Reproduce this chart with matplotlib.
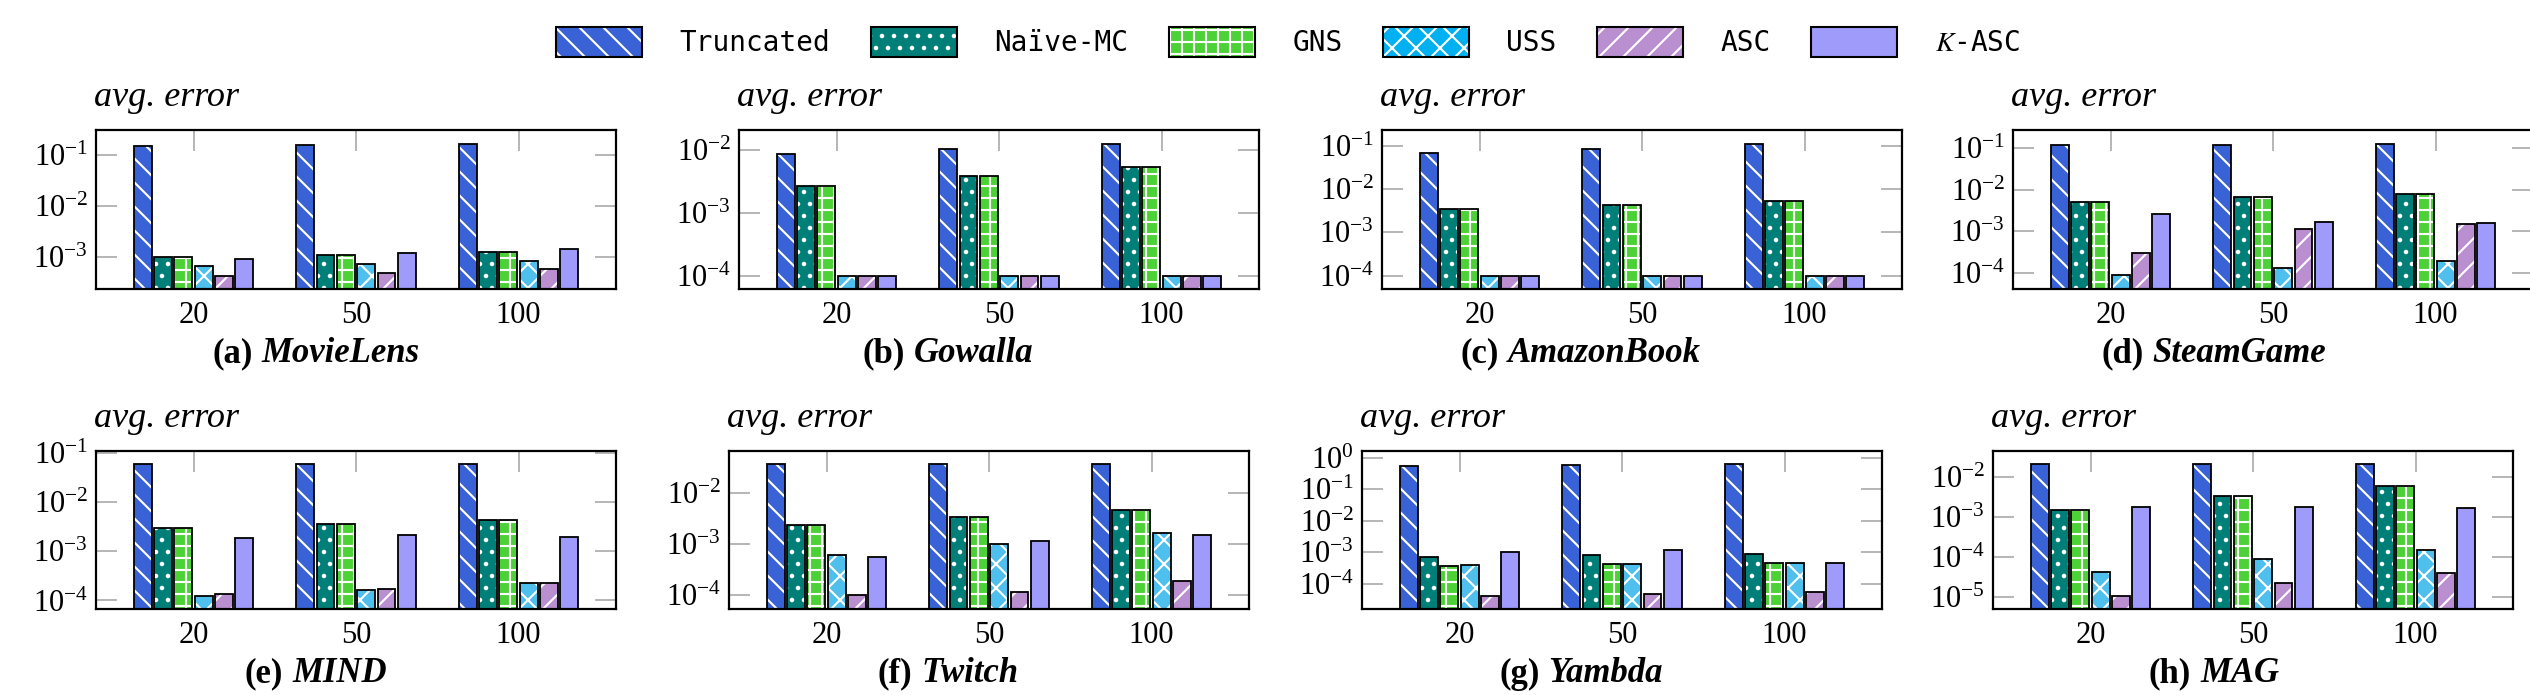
import matplotlib
matplotlib.use("Agg")
import matplotlib.pyplot as plt
import matplotlib.ticker as mticker
from matplotlib.patches import Patch
import numpy as np

# figure is built at 72 dpi so that one point == one pixel (denser hatching)
DPI = 72
S = 100 / 72  # sizes below are written as "points at 100 dpi"

plt.rcParams['font.family'] = ['Liberation Serif', 'DejaVu Serif']
plt.rcParams['mathtext.fontset'] = 'stix'
plt.rcParams['hatch.linewidth'] = 2.1

# ---------------- data ----------------
methods = ["Truncated", "Naïve-MC", "GNS", "USS", "ASC", r"$K$-ASC"]
budgets = ["20", "50", "100"]
datasets = ["MovieLens", "Gowalla", "AmazonBook", "SteamGame",
            "MIND", "Twitch", "Yambda", "MAG"]
letters = ["a", "b", "c", "d", "e", "f", "g", "h"]

# rows: budgets 20 / 50 / 100 ; columns: methods
movielens = [[0.153, 1.00e-3, 1.00e-3, 6.7e-4, 4.3e-4, 9.3e-4],
             [0.162, 1.09e-3, 1.09e-3, 7.4e-4, 4.9e-4, 1.22e-3],
             [0.170, 1.24e-3, 1.24e-3, 8.5e-4, 5.7e-4, 1.46e-3]]
gowalla = [[8.6e-3, 2.70e-3, 2.70e-3, 1.0e-4, 1.0e-4, 1.0e-4],
           [1.05e-2, 3.85e-3, 3.85e-3, 1.0e-4, 1.0e-4, 1.0e-4],
           [1.26e-2, 5.37e-3, 5.37e-3, 1.0e-4, 1.0e-4, 1.0e-4]]
amazonbook = [[0.0676, 3.5e-3, 3.5e-3, 1.0e-4, 1.0e-4, 1.0e-4],
              [0.0868, 4.4e-3, 4.4e-3, 1.0e-4, 1.0e-4, 1.0e-4],
              [0.113, 5.2e-3, 5.2e-3, 1.0e-4, 1.0e-4, 1.0e-4]]
steamgame = [[0.118, 5.0e-3, 5.0e-3, 8.5e-5, 2.9e-4, 2.6e-3],
             [0.123, 6.5e-3, 6.5e-3, 1.3e-4, 1.12e-3, 1.68e-3],
             [0.127, 7.9e-3, 7.9e-3, 1.9e-4, 1.5e-3, 1.59e-3]]
mind = [[0.0608, 3.0e-3, 3.0e-3, 1.26e-4, 1.36e-4, 1.84e-3],
        [0.0608, 3.64e-3, 3.64e-3, 1.65e-4, 1.75e-4, 2.14e-3],
        [0.0610, 4.3e-3, 4.3e-3, 2.25e-4, 2.3e-4, 1.92e-3]]
twitch = [[0.0366, 2.36e-3, 2.36e-3, 6.0e-4, 1.0e-4, 5.5e-4],
          [0.0366, 3.37e-3, 3.37e-3, 9.9e-4, 1.14e-4, 1.13e-3],
          [0.0366, 4.6e-3, 4.6e-3, 1.67e-3, 1.93e-4, 1.5e-3]]
yambda = [[0.532, 7.1e-4, 3.7e-4, 3.8e-4, 4.2e-5, 1.02e-3],
          [0.573, 8.0e-4, 4.1e-4, 4.1e-4, 4.7e-5, 1.16e-3],
          [0.630, 8.9e-4, 4.5e-4, 4.5e-4, 5.3e-5, 4.6e-4]]
mag = [[0.0206, 1.5e-3, 1.5e-3, 4.3e-5, 1.1e-5, 1.74e-3],
       [0.0206, 3.27e-3, 3.27e-3, 8.8e-5, 2.3e-5, 1.7e-3],
       [0.0206, 5.76e-3, 5.76e-3, 1.46e-4, 4.07e-5, 1.65e-3]]

all_data = [movielens, gowalla, amazonbook, steamgame, mind, twitch, yambda, mag]

# ---------------- styling ----------------
face_colors = ["#3a62d7", "#007f78", "#4cd137", "#4fc0ee", "#b98fd0", "#9e9bfa"]
legend_face = ["#3a62d7", "#007f78", "#4cd137", "#00b0f0", "#b98fd0", "#9e9bfa"]
hatches = ["\\", ".", "+", "x", "/", ""]

ylims = [(2.34e-4, 0.316), (6.1e-5, 0.0209), (4.9e-5, 0.234), (4.0e-5, 0.277),
         (6.7e-5, 0.111), (5.4e-5, 0.0655), (1.58e-5, 1.62), (5.1e-6, 0.0431)]

W, H = 2530, 695
fig = plt.figure(figsize=(W / DPI, H / DPI), dpi=DPI)

row_tb = [(130, 289), (451, 609)]
col_left = [[96, 739, 1382, 2013], [96, 729, 1362, 1993]]
ax_w = 520
cap_x = [316, 948, 1581, 2214]
cap_y = [354, 674]

bar_w = 0.11
pitch = 0.125
grey = "#a6a6a6"

renderer = fig.canvas.get_renderer()

for k in range(8):
    r, c = divmod(k, 4)
    top, bot = row_tb[r]
    left = col_left[r][c]
    ax = fig.add_axes([left / W, 1 - bot / H, ax_w / W, (bot - top) / H])
    data = np.array(all_data[k])
    ylo, yhi = ylims[k]
    ax.set_yscale("log")
    x = np.arange(len(budgets))
    for i in range(len(methods)):
        xi = x + (i - 2.5) * pitch
        vals = data[:, i]
        ax.bar(xi, vals - ylo, bottom=ylo, width=bar_w, color=face_colors[i],
               hatch=hatches[i], edgecolor="white", linewidth=0, zorder=3)
        ax.bar(xi, vals - ylo, bottom=ylo, width=bar_w, fill=False,
               edgecolor="black", linewidth=1.3 * S, zorder=4)
    ax.set_xlim(-0.6, 2.6)
    ax.set_ylim(ylo, yhi)
    ax.set_xticks(x)
    ax.set_xticklabels(budgets)
    ax.yaxis.set_major_locator(mticker.LogLocator(base=10, numticks=20))
    ax.yaxis.set_minor_locator(mticker.NullLocator())
    ax.tick_params(axis="y", which="major", direction="in", left=True, right=True,
                   length=21, width=1.6, color=grey, labelsize=22 * S, pad=8)
    ax.tick_params(axis="x", which="major", direction="in", bottom=False, top=True,
                   labelbottom=True, length=21, width=1.6, color=grey,
                   labelsize=22 * S, pad=12)
    for s in ax.spines.values():
        s.set_linewidth(1.6 * S)
        s.set_color("black")
        s.set_zorder(5)
    # y-axis label placed above the axis
    fig.text((left - 2) / W, 1 - (top - 24) / H, "avg. error", fontsize=26 * S,
             fontstyle="italic", ha="left", va="baseline")
    # caption
    t1 = fig.text(0, 0, f"({letters[k]})", fontsize=25 * S, fontweight="bold",
                  va="center", ha="left")
    t2 = fig.text(0, 0, datasets[k], fontsize=25 * S, fontweight="bold",
                  fontstyle="italic", va="center", ha="left")
    w1 = t1.get_window_extent(renderer).width
    w2 = t2.get_window_extent(renderer).width
    gap = 9
    total = w1 + gap + w2
    x0 = cap_x[c] - total / 2
    yc = 1 - cap_y[r] / H
    t1.set_position((x0 / W, yc))
    t2.set_position(((x0 + w1 + gap) / W, yc))

# legend
handles = []
for i in range(len(methods)):
    h1 = Patch(facecolor=legend_face[i], hatch=hatches[i], edgecolor="white", linewidth=0)
    h2 = Patch(fill=False, edgecolor="black", linewidth=1.5 * S)
    handles.append((h1, h2))
fig.legend(handles, methods, loc="center", bbox_to_anchor=(1288 / W, 1 - 42 / H),
           ncol=6, frameon=False, prop={"family": "DejaVu Sans Mono", "size": 20 * S},
           handlelength=3.1, handleheight=1.3, handletextpad=1.35,
           columnspacing=1.45, borderaxespad=0)

fig.savefig("out.png", dpi=DPI)
